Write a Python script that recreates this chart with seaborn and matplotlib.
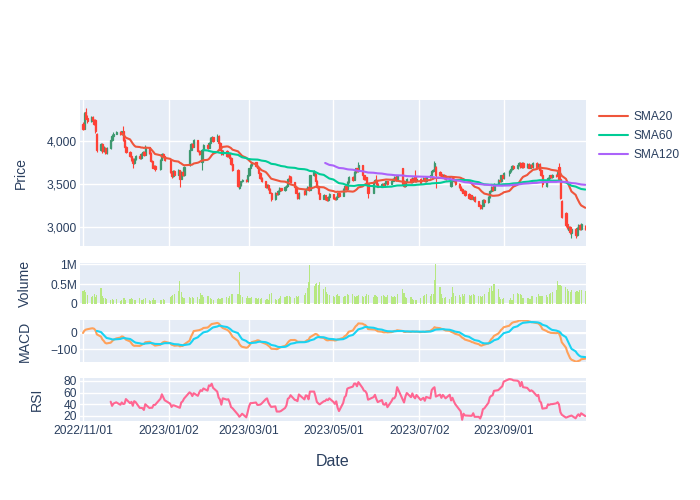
import pandas as pd
import numpy as np
import matplotlib
matplotlib.use("Agg")
import matplotlib.pyplot as plt
import matplotlib.dates as mdates
import seaborn as sns

# ---- data (one value per trading day, US calendar) ----
holidays = ["2022-11-24", "2022-12-26", "2023-01-02", "2023-01-16", "2023-02-20",
            "2023-04-07", "2023-05-29", "2023-06-19", "2023-07-04", "2023-09-04"]
dates = pd.bdate_range("2022-11-01", "2023-10-30", freq="C", holidays=holidays)

opens = [
    4200, 4140, 4340, 4270, 4230, 4280, 4240, 4240, 4080, 3890,
    3960, 3880, 3920, 3860, 3920, 4010, 4060, 4085, 4100,
    4075, 4110, 4010, 3930, 3870, 3830, 3790, 3740, 3790, 3830,
    3800, 3850, 3870, 3840, 3930, 3860, 3770, 3690, 3710,
    3670, 3780, 3850, 3820, 3780, 3640, 3590, 3650, 3610,
    3660, 3560, 3640, 3600, 3720, 3900, 3960, 3930, 4010,
    3880, 3850, 3760, 3900, 3950, 3920, 3980, 4030, 4045, 4000,
    4060, 3980, 3900, 3850, 3880, 3820, 3860, 3800, 3730,
    3660, 3450, 3490, 3530, 3550, 3530, 3600, 3680, 3720, 3750,
    3710, 3690, 3630, 3570, 3530, 3460, 3490, 3440, 3400, 3320,
    3400, 3380, 3420, 3450, 3430, 3470, 3480, 3590, 3580, 3520,
    3460, 3400, 3340, 3420, 3380, 3440, 3470, 3430, 3600,
    3620, 3540, 3460, 3390, 3330, 3370, 3340, 3310, 3350, 3380,
    3340, 3320, 3350, 3390, 3360, 3440, 3480, 3440, 3520, 3580,
    3550, 3640, 3680, 3650, 3720, 3600, 3560, 3580, 3500,
    3400, 3520, 3550, 3500, 3470, 3500, 3480, 3510, 3530, 3500,
    3540, 3560, 3580, 3550, 3680, 3540, 3480, 3530, 3560,
    3520, 3570, 3590, 3530, 3560, 3560, 3570, 3530, 3580,
    3600, 3650, 3660, 3700, 3640, 3620, 3580, 3610, 3590, 3560,
    3480, 3580, 3560, 3540, 3500, 3470, 3440, 3400, 3420, 3380,
    3330, 3370, 3320, 3350, 3300, 3260, 3220, 3250, 3310, 3290,
    3350, 3420, 3470, 3430, 3500, 3550, 3530, 3600, 3570,
    3630, 3650, 3670, 3710, 3680, 3720, 3740, 3700, 3740, 3700,
    3730, 3690, 3720, 3700, 3740, 3690, 3730, 3660, 3600, 3480,
    3530, 3570, 3600, 3580, 3610, 3600, 3700, 3560, 3300, 3160,
    3040, 2960, 3000, 2930, 2980, 2910, 2980, 3020, 2980, 3010,
]
highs = [
    4215, 4340, 4385, 4300, 4295, 4290, 4255, 4255, 4090, 3975,
    3970, 3945, 3930, 3935, 4020, 4075, 4100, 4110, 4110,
    4120, 4170, 4020, 3940, 3885, 3840, 3800, 3800, 3840, 3845,
    3860, 3880, 3880, 3950, 3935, 3870, 3780, 3725, 3720,
    3790, 3860, 3855, 3830, 3790, 3650, 3660, 3660, 3670,
    3665, 3650, 3650, 3710, 3910, 3975, 3970, 4020, 4015,
    3890, 3890, 3910, 3960, 3960, 3990, 4040, 4060, 4050, 4075,
    4065, 3985, 3910, 3890, 3890, 3870, 3865, 3810, 3740,
    3670, 3500, 3540, 3560, 3560, 3610, 3690, 3730, 3760, 3755,
    3720, 3695, 3640, 3580, 3540, 3500, 3495, 3450, 3405, 3410,
    3410, 3430, 3460, 3455, 3480, 3490, 3570, 3600, 3590, 3525,
    3470, 3410, 3410, 3425, 3450, 3480, 3475, 3610, 3660,
    3625, 3545, 3465, 3395, 3380, 3375, 3345, 3360, 3390, 3385,
    3350, 3360, 3400, 3400, 3450, 3490, 3490, 3530, 3590, 3590,
    3650, 3690, 3690, 3760, 3725, 3610, 3590, 3585, 3505,
    3530, 3560, 3610, 3510, 3510, 3510, 3520, 3540, 3540, 3550,
    3570, 3590, 3590, 3610, 3690, 3550, 3540, 3570, 3570,
    3580, 3580, 3660, 3570, 3570, 3580, 3580, 3590, 3610,
    3660, 3670, 3770, 3710, 3650, 3630, 3620, 3620, 3600, 3590,
    3540, 3590, 3570, 3550, 3510, 3480, 3450, 3430, 3425, 3390,
    3380, 3375, 3360, 3355, 3305, 3265, 3260, 3320, 3320, 3360,
    3430, 3480, 3480, 3510, 3560, 3560, 3610, 3610, 3640,
    3660, 3680, 3720, 3720, 3730, 3750, 3750, 3760, 3750, 3740,
    3740, 3730, 3730, 3750, 3750, 3740, 3740, 3670, 3610, 3540,
    3580, 3610, 3610, 3620, 3620, 3650, 3745, 3570, 3310, 3170,
    3050, 3010, 3010, 2990, 2990, 3000, 3030, 3030, 3050, 3020,
]
lows = [
    4125, 4135, 4250, 4210, 4220, 4225, 4185, 4095, 3870, 3880,
    3860, 3870, 3845, 3850, 3910, 4000, 4050, 4075, 4065,
    4065, 4000, 3920, 3860, 3815, 3770, 3690, 3730, 3780, 3790,
    3795, 3840, 3830, 3835, 3850, 3760, 3680, 3680, 3655,
    3660, 3775, 3810, 3770, 3630, 3575, 3585, 3600, 3600,
    3470, 3555, 3590, 3595, 3710, 3890, 3920, 3925, 3870,
    3835, 3840, 3660, 3890, 3910, 3915, 3975, 4020, 3990, 3995,
    3970, 3890, 3840, 3840, 3810, 3815, 3790, 3720, 3650,
    3460, 3440, 3480, 3520, 3520, 3525, 3595, 3670, 3710, 3700,
    3680, 3620, 3560, 3520, 3450, 3450, 3430, 3390, 3300, 3310,
    3370, 3370, 3410, 3420, 3420, 3460, 3475, 3530, 3510, 3450,
    3390, 3320, 3330, 3370, 3375, 3430, 3420, 3425, 3590,
    3530, 3450, 3380, 3320, 3320, 3310, 3300, 3305, 3340, 3330,
    3310, 3310, 3345, 3350, 3355, 3430, 3430, 3435, 3510, 3540,
    3545, 3630, 3640, 3640, 3590, 3550, 3550, 3490, 3340,
    3390, 3510, 3490, 3460, 3460, 3470, 3470, 3500, 3490, 3495,
    3530, 3550, 3540, 3545, 3490, 3470, 3470, 3520, 3510,
    3510, 3530, 3520, 3520, 3500, 3550, 3520, 3520, 3570,
    3590, 3640, 3650, 3450, 3590, 3570, 3570, 3560, 3550, 3550,
    3470, 3530, 3520, 3490, 3450, 3420, 3390, 3390, 3360, 3330,
    3320, 3320, 3310, 3290, 3240, 3205, 3210, 3245, 3280, 3285,
    3340, 3410, 3420, 3425, 3490, 3520, 3520, 3560, 3560,
    3590, 3640, 3660, 3670, 3670, 3710, 3690, 3690, 3690, 3690,
    3680, 3680, 3690, 3690, 3680, 3680, 3650, 3590, 3470, 3470,
    3520, 3560, 3570, 3570, 3580, 3590, 3550, 3320, 3100, 3000,
    2980, 2950, 2920, 2870, 2870, 2900, 2970, 2970, 2970, 2970,
]
closes = [
    4140, 4320, 4260, 4230, 4280, 4240, 4200, 4110, 3890, 3960,
    3880, 3930, 3860, 3920, 4010, 4060, 4085, 4100, 4075,
    4110, 4010, 3930, 3870, 3830, 3790, 3740, 3790, 3830, 3800,
    3850, 3870, 3840, 3930, 3860, 3770, 3690, 3710, 3670,
    3780, 3850, 3820, 3780, 3640, 3590, 3650, 3610, 3660,
    3560, 3640, 3600, 3700, 3900, 3960, 3930, 4010, 3880,
    3850, 3880, 3900, 3950, 3920, 3980, 4030, 4045, 4000, 4060,
    3980, 3900, 3850, 3880, 3820, 3860, 3800, 3730, 3660,
    3480, 3490, 3530, 3550, 3530, 3600, 3680, 3720, 3750, 3710,
    3690, 3630, 3570, 3530, 3460, 3490, 3440, 3400, 3320, 3400,
    3380, 3420, 3450, 3430, 3470, 3480, 3560, 3540, 3520, 3460,
    3400, 3340, 3400, 3380, 3440, 3470, 3430, 3600, 3640,
    3540, 3460, 3390, 3330, 3370, 3320, 3310, 3350, 3380, 3340,
    3320, 3350, 3390, 3360, 3440, 3480, 3440, 3520, 3580, 3550,
    3640, 3680, 3650, 3720, 3600, 3560, 3580, 3500, 3400,
    3520, 3550, 3500, 3470, 3500, 3480, 3510, 3530, 3500, 3540,
    3560, 3580, 3550, 3600, 3500, 3480, 3530, 3560, 3520,
    3570, 3540, 3530, 3560, 3510, 3570, 3530, 3580, 3600,
    3650, 3660, 3740, 3600, 3600, 3580, 3610, 3570, 3560, 3580,
    3530, 3540, 3530, 3500, 3460, 3430, 3400, 3420, 3370, 3340,
    3370, 3330, 3350, 3300, 3250, 3220, 3250, 3310, 3290, 3350,
    3420, 3470, 3430, 3500, 3550, 3530, 3600, 3570, 3630,
    3650, 3670, 3710, 3680, 3720, 3740, 3700, 3740, 3700, 3730,
    3690, 3720, 3700, 3740, 3690, 3730, 3660, 3600, 3500, 3530,
    3570, 3600, 3580, 3610, 3590, 3640, 3560, 3340, 3120, 3020,
    3000, 3000, 2940, 2980, 2910, 2990, 3020, 2980, 3040, 2980,
]
# volume in millions of shares
volume_m = [
    0.33, 0.35, 0.30, 0.22, 0.18, 0.20, 0.24, 0.17, 0.22, 0.41,
    0.20, 0.14, 0.16, 0.12, 0.10, 0.13, 0.09, 0.12, 0.08,
    0.10, 0.16, 0.14, 0.11, 0.13, 0.16, 0.12, 0.09, 0.10, 0.14,
    0.09, 0.11, 0.13, 0.15, 0.10, 0.08, 0.11, 0.14, 0.10,
    0.09, 0.11, 0.13, 0.10, 0.18, 0.20, 0.22, 0.26, 0.32,
    0.57, 0.30, 0.18, 0.15, 0.17, 0.16, 0.18, 0.15, 0.17,
    0.13, 0.28, 0.22, 0.18, 0.21, 0.20, 0.14, 0.12, 0.11, 0.12,
    0.14, 0.13, 0.16, 0.14, 0.18, 0.15, 0.20, 0.24, 0.25,
    0.26, 0.80, 0.22, 0.18, 0.15, 0.19, 0.16, 0.14, 0.17, 0.15,
    0.13, 0.16, 0.12, 0.14, 0.11, 0.13, 0.10, 0.26, 0.27, 0.12,
    0.11, 0.13, 0.14, 0.19, 0.17, 0.20, 0.21, 0.19, 0.17, 0.16,
    0.19, 0.18, 0.21, 0.23, 0.28, 0.40, 0.55, 0.97, 0.45,
    0.50, 0.52, 0.48, 0.55, 0.38, 0.42, 0.30, 0.25, 0.22, 0.20,
    0.18, 0.22, 0.24, 0.20, 0.18, 0.21, 0.19, 0.26, 0.22, 0.25,
    0.21, 0.17, 0.19, 0.23, 0.19, 0.17, 0.20, 0.25, 0.22,
    0.18, 0.22, 0.21, 0.17, 0.19, 0.23, 0.20, 0.18, 0.22, 0.19,
    0.17, 0.21, 0.18, 0.26, 0.37, 0.28, 0.18, 0.15, 0.17,
    0.13, 0.10, 0.09, 0.11, 0.14, 0.19, 0.22, 0.24, 0.21,
    0.26, 0.25, 0.60, 1.00, 0.43, 0.25, 0.15, 0.14, 0.17, 0.13,
    0.18, 0.42, 0.28, 0.20, 0.22, 0.17, 0.26, 0.20, 0.24, 0.23,
    0.19, 0.22, 0.24, 0.23, 0.19, 0.21, 0.17, 0.20, 0.24, 0.30,
    0.39, 0.45, 0.33, 0.51, 0.38, 0.17, 0.12, 0.13, 0.15,
    0.10, 0.14, 0.11, 0.25, 0.28, 0.26, 0.24, 0.22, 0.15, 0.14,
    0.16, 0.13, 0.20, 0.19, 0.18, 0.24, 0.19, 0.21, 0.20, 0.22,
    0.18, 0.26, 0.28, 0.30, 0.35, 0.59, 0.48, 0.47, 0.45, 0.42,
    0.38, 0.33, 0.30, 0.35, 0.29, 0.33, 0.31, 0.34, 0.35, 0.33,
]

tick_dates = ["2022-11-01", "2023-01-02", "2023-03-01", "2023-05-01", "2023-07-02", "2023-09-01"]
tick_labels = ["2022/11/01", "2023/01/02", "2023/03/01", "2023/05/01", "2023/07/02", "2023/09/01"]

df = pd.DataFrame({"date": dates, "open": opens, "high": highs, "low": lows,
                   "close": closes, "volume": volume_m})
df["x"] = mdates.date2num(df["date"])

# indicators from the close
df["SMA20"] = df["close"].rolling(20).mean()
df["SMA60"] = df["close"].rolling(60).mean()
df["SMA120"] = df["close"].rolling(120).mean()
ema12 = df["close"].ewm(span=12, adjust=False).mean()
ema26 = df["close"].ewm(span=26, adjust=False).mean()
df["macd"] = ema12 - ema26
df["signal"] = df["macd"].ewm(span=9, adjust=False, min_periods=9).mean()
delta = df["close"].diff()
gain = delta.clip(lower=0).rolling(14).mean()
loss = (-delta.clip(upper=0)).rolling(14).mean()
df["rsi"] = 100 - 100 / (1 + gain / loss)

# ---- style (plotly-like) ----
sns.set_style("darkgrid", {"axes.facecolor": "#E5ECF6", "grid.color": "white"})
plt.rcParams["font.family"] = ["Liberation Sans", "DejaVu Sans"]
TXT = "#2a3f5f"
TICK = 8.64   # 12 px
TITLE = 10.08  # 14 px

fig = plt.figure(figsize=(7, 5), dpi=100)
W = 506 / 700
L = 80 / 700
ax_p = fig.add_axes([L, 254 / 500, W, 146 / 500])
ax_v = fig.add_axes([L, 196 / 500, W, 41 / 500])
ax_m = fig.add_axes([L, 138 / 500, W, 42 / 500])
ax_r = fig.add_axes([L, 79 / 500, W, 43 / 500])

# candles
up = df["close"] >= df["open"]
for mask, color in [(up, "#3D9970"), (~up, "#FF4136")]:
    d = df[mask]
    ax_p.vlines(d["x"], d["low"], d["high"], color=color, lw=0.8, zorder=3)
    ax_p.bar(d["x"], (d["close"] - d["open"]).abs(), bottom=d[["open", "close"]].min(axis=1),
             width=0.9, color=color, edgecolor=color, lw=0.9, zorder=3)

sns.lineplot(x=df["x"], y=df["SMA20"], ax=ax_p, color="#EF553B", lw=1.5, label="SMA20", zorder=4)
sns.lineplot(x=df["x"], y=df["SMA60"], ax=ax_p, color="#00cc96", lw=1.5, label="SMA60", zorder=4)
sns.lineplot(x=df["x"], y=df["SMA120"], ax=ax_p, color="#ab63fa", lw=1.5, label="SMA120", zorder=4)
handles, labels = ax_p.get_legend_handles_labels()
if ax_p.get_legend() is not None:
    ax_p.get_legend().remove()

# volume
ax_v.bar(df["x"], df["volume"], width=0.8, color="#B6E880", lw=0, zorder=3)

# MACD
sns.lineplot(x=df["x"], y=df["macd"], ax=ax_m, color="#FFA15A", lw=1.5, zorder=3)
sns.lineplot(x=df["x"], y=df["signal"], ax=ax_m, color="#19d3f3", lw=1.5, zorder=3)

# RSI
sns.lineplot(x=df["x"], y=df["rsi"], ax=ax_r, color="#FF6692", lw=1.5, zorder=3)

xmin = mdates.date2num(pd.Timestamp("2022-10-29 20:00"))
xmax = mdates.date2num(pd.Timestamp("2023-10-30 12:00"))
ticks_x = mdates.date2num(pd.to_datetime(tick_dates))

for ax in [ax_p, ax_v, ax_m, ax_r]:
    ax.set_xlim(xmin, xmax)
    ax.set_xticks(ticks_x)
    ax.set_xticklabels([])
    ax.tick_params(length=0, pad=2, labelsize=TICK, labelcolor=TXT)
    for s in ax.spines.values():
        s.set_visible(False)
    ax.grid(True, color="white", lw=1)
    ax.set_axisbelow(True)
    ax.set_xlabel("")

ax_v.grid(False, axis="x")
ax_r.set_xticklabels(tick_labels)
ax_r.tick_params(axis="x", pad=3)

ax_p.set_ylim(2780, 4475)
ax_p.set_yticks([3000, 3500, 4000])
ax_p.set_yticklabels(["3,000", "3,500", "4,000"])

ax_v.set_ylim(0, 1.03)
ax_v.set_yticks([0, 0.5, 1])
ax_v.set_yticklabels(["0", "0.5M", "1M"])
ax_v.axhline(0, color="white", lw=1.5, zorder=2)

ax_m.set_ylim(-181, 81)
ax_m.set_yticks([-100, 0])
ax_m.set_yticklabels(["\u2212100", "0"])
ax_m.axhline(0, color="white", lw=1.5, zorder=2)

ax_r.set_ylim(11, 85)
ax_r.set_yticks([20, 40, 60, 80])

for ax, name, px in [(ax_p, "Price", 28), (ax_v, "Volume", 32), (ax_m, "MACD", 32), (ax_r, "RSI", 44)]:
    ax.set_ylabel(name, fontsize=TITLE, color=TXT)
    ax.yaxis.set_label_coords((px - 80) / 506, 0.5)

fig.text(333 / 700, 1 - 461 / 500, "Date", ha="center", va="center", fontsize=11.5, color=TXT)

fig.legend(handles, labels, loc="upper left", bbox_to_anchor=(599 / 700, 1 - 111 / 500),
           frameon=False, fontsize=TICK, labelcolor=TXT, handlelength=2.4,
           handletextpad=0.5, labelspacing=0.6, borderaxespad=0, borderpad=0)

fig.savefig("out.png", dpi=100)
